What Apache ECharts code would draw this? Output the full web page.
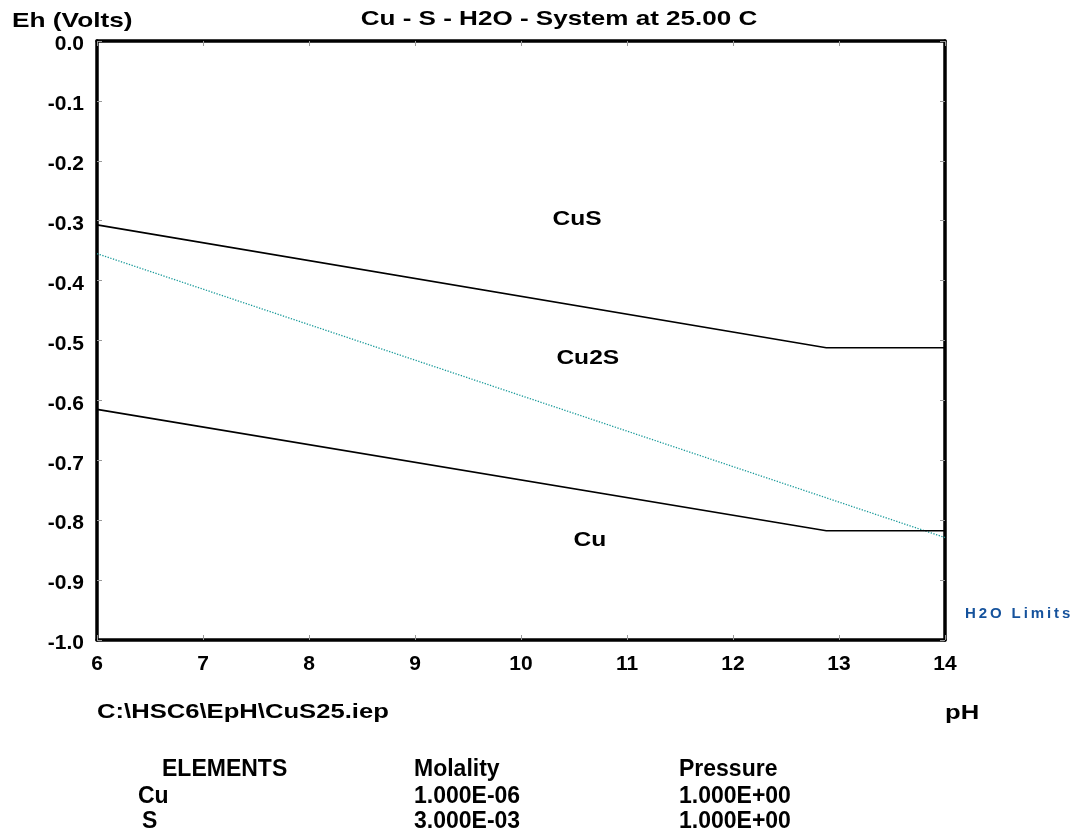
<!DOCTYPE html>
<html><head><meta charset="utf-8">
<script src="https://cdn.jsdelivr.net/npm/echarts@6/dist/echarts.min.js"></script>
<style>html,body{margin:0;padding:0;background:#fff}#c{width:1086px;height:836px}</style>
</head><body><div id="c"></div>
<script>
// Boundary lines (pH, Eh)
const cusCu2s = [[6, -0.307], [12.88, -0.512], [14, -0.512]];
const cu2sCu = [[6, -0.615], [12.88, -0.8175], [14, -0.8175]];
const h2oLower = [[6, -0.355], [14, -0.829]];
// Region labels [pH, Eh, name]
const regionLabels = [[10.53, -0.297, 'CuS'], [10.63, -0.529, 'Cu2S'], [10.65, -0.834, 'Cu']];
// Bottom info table
const tableHead = ['ELEMENTS', 'Molality', 'Pressure'];
const tableRows = [['Cu', '1.000E-06', '1.000E+00'], ['S', '3.000E-03', '1.000E+00']];

const F = '"Liberation Sans", Arial, sans-serif';
const chart = echarts.init(document.getElementById('c'));
const tick = {show: true, inside: true, length: 5, lineStyle: {color: '#999', width: 1}};
const axLine = {show: true, onZero: false, lineStyle: {color: '#000', width: 3.5}};
const SX = 1.22;
const txt = (x, y, t, opt, sx) => ({type: 'text', x: x, y: y, scaleX: sx || 1, z: 10,
  style: Object.assign({text: t, font: 'bold 21px ' + F, fill: '#000', textVerticalAlign: 'middle'}, opt || {})});
const graphics = [
  txt(12, 21, 'Eh (Volts)', null, 1.25),
  txt(559, 19, 'Cu - S - H2O - System at 25.00 C', {textAlign: 'center'}, 1.24),
  txt(97, 712, 'C:\\HSC6\\EpH\\CuS25.iep', null, SX),
  txt(945, 713, 'pH', null, SX),
  txt(162, 770, tableHead[0], {font: 'bold 23px ' + F}),
  txt(414, 770, tableHead[1], {font: 'bold 23px ' + F}),
  txt(679, 770, tableHead[2], {font: 'bold 23px ' + F})
];
tableRows.forEach((r, i) => {
  const y = 796.5 + i * 25;
  graphics.push(txt(i === 0 ? 138 : 142, y, r[0], {font: 'bold 23px ' + F}));
  graphics.push(txt(414, y, r[1], {font: 'bold 23px ' + F}));
  graphics.push(txt(679, y, r[2], {font: 'bold 23px ' + F}));
});
// Letter-spaced "H2O Limits"
(function () {
  const ctx = document.createElement('canvas').getContext('2d');
  const font = 'bold 15px ' + F;
  ctx.font = font;
  let x = 965;
  for (const ch of 'H2O Limits') {
    if (ch !== ' ') graphics.push({type: 'text', x: x, y: 614, z: 10, style: {text: ch, font: font, fill: '#15529c', textVerticalAlign: 'middle'}});
    x += ctx.measureText(ch).width + 2.9;
  }
})();

chart.setOption({
  animation: false,
  backgroundColor: '#fff',
  grid: {left: 97, right: 141, top: 41, bottom: 196, containLabel: false},
  xAxis: [
    {type: 'value', min: 6, max: 14, interval: 1, position: 'bottom', axisLine: axLine, axisTick: tick, splitLine: {show: false},
     axisLabel: {margin: 14, fontSize: 21, fontWeight: 'bold', color: '#000', fontFamily: F}},
    {type: 'value', min: 6, max: 14, interval: 1, position: 'top', axisLine: axLine, axisTick: tick, splitLine: {show: false}, axisLabel: {show: false}}
  ],
  yAxis: [
    {type: 'value', min: -1, max: 0, interval: 0.1, position: 'left', axisLine: axLine, axisTick: tick, splitLine: {show: false},
     axisLabel: {margin: 13, color: '#000', formatter: v => '{a|' + v.toFixed(1) + '}',
       rich: {a: {fontSize: 21, fontWeight: 'bold', color: '#000', fontFamily: F, padding: [7, 0, 0, 0]}}}},
    {type: 'value', min: -1, max: 0, interval: 0.1, position: 'right', axisLine: axLine, axisTick: tick, splitLine: {show: false}, axisLabel: {show: false}}
  ],
  series: [
    {type: 'line', data: cusCu2s, symbol: 'none', lineStyle: {color: '#000', width: 1.6}, z: 3},
    {type: 'line', data: cu2sCu, symbol: 'none', lineStyle: {color: '#000', width: 1.6}, z: 3},
    {type: 'line', data: h2oLower, symbol: 'none', lineStyle: {color: '#1a9a9a', width: 1.3, type: [1.3, 1.5]}, z: 2}
  ]
});
// Region labels placed through the chart's own scales
regionLabels.forEach(d => {
  const p = chart.convertToPixel({gridIndex: 0}, [d[0], d[1]]);
  graphics.push(txt(p[0], p[1], d[2], {textAlign: 'center'}, 1.17));
});
chart.setOption({graphic: graphics});
</script></body></html>
